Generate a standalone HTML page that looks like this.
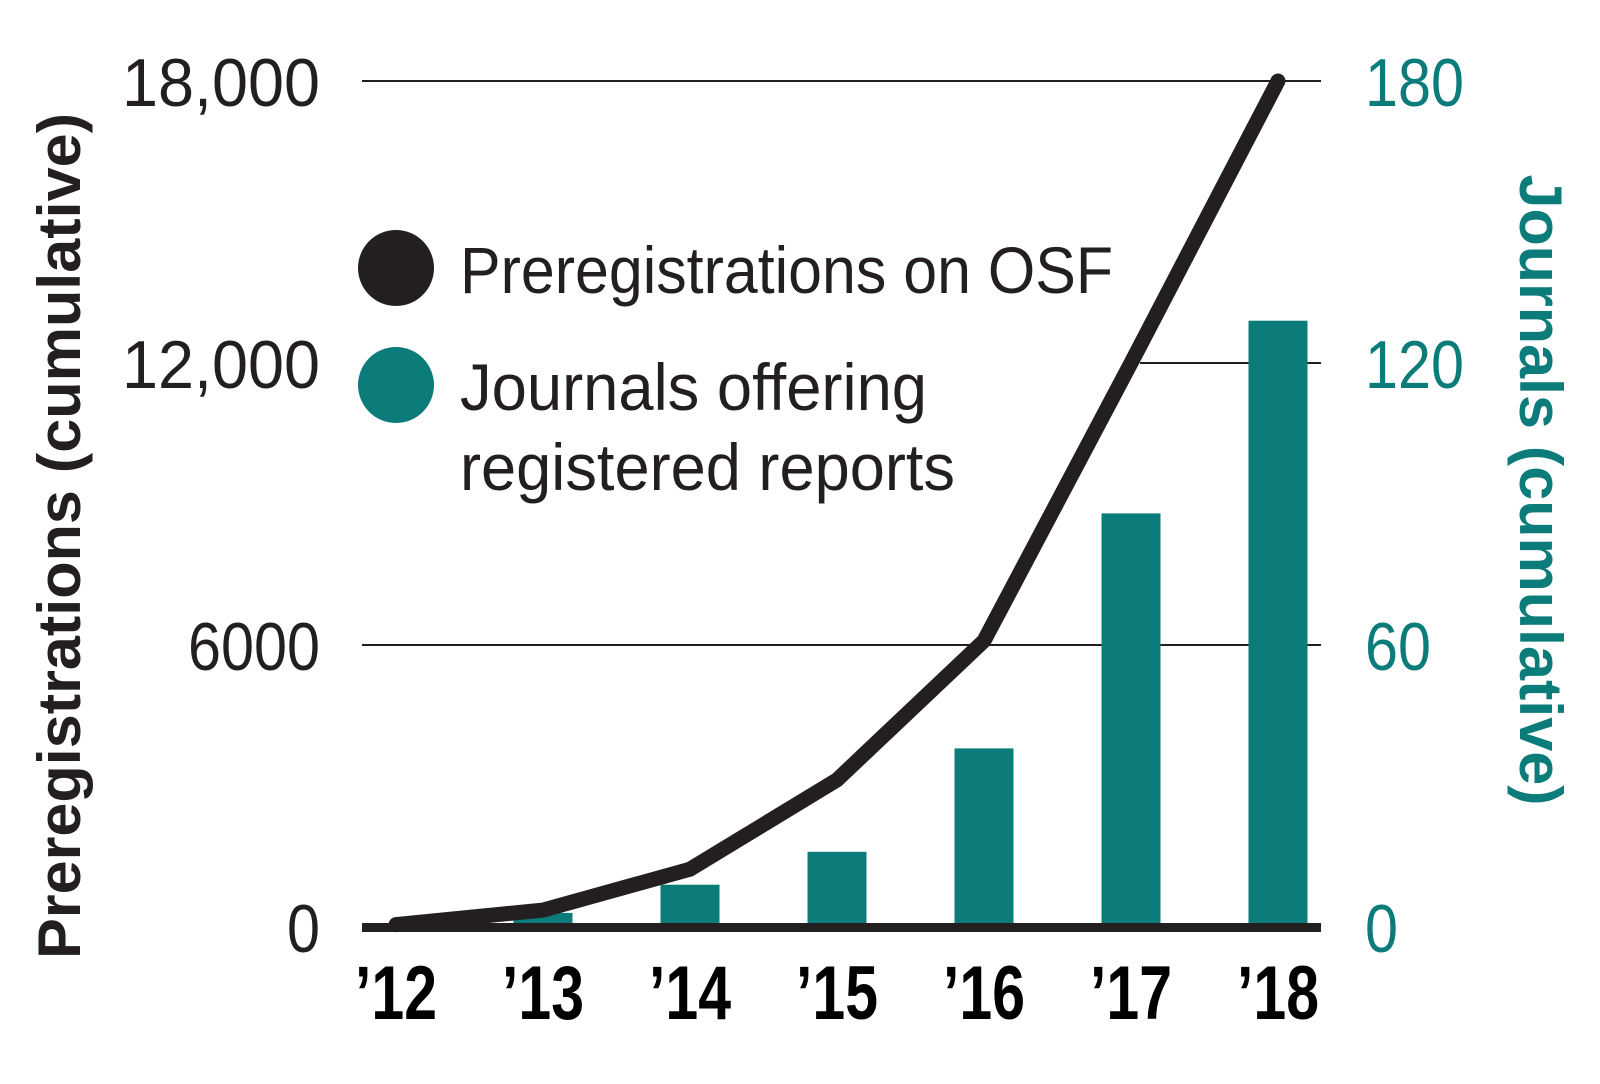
<!DOCTYPE html>
<html><head><meta charset="utf-8"><style>
html,body{margin:0;padding:0;background:#fff;}
svg{display:block;}
text{font-family:"Liberation Sans Narrow","Liberation Sans",sans-serif;}
</style></head><body>
<svg id="chart" width="1600" height="1084" viewBox="0 0 1600 1084" xmlns="http://www.w3.org/2000/svg">
<g id="grid"></g>
<g id="bars"></g>
<g id="line"></g>
<g id="axes"></g>
<g>
  <circle cx="396" cy="268" r="38" fill="#231f20"/>
  <text x="460" y="293" font-size="66" fill="#231f20" textLength="653" lengthAdjust="spacingAndGlyphs">Preregistrations on OSF</text>
  <circle cx="396" cy="385" r="38" fill="#0c7c7a"/>
  <text x="460" y="410" font-size="66" fill="#231f20" textLength="467" lengthAdjust="spacingAndGlyphs">Journals offering</text>
  <text x="460" y="490" font-size="66" fill="#231f20" textLength="495" lengthAdjust="spacingAndGlyphs">registered reports</text>
</g>
<text transform="translate(80,536) rotate(-90)" text-anchor="middle" font-size="60" font-weight="bold" fill="#231f20" textLength="846" lengthAdjust="spacingAndGlyphs">Preregistrations (cumulative)</text>
<text transform="translate(1520,490) rotate(90)" text-anchor="middle" font-size="60" font-weight="bold" fill="#0c7c7a" textLength="631" lengthAdjust="spacingAndGlyphs">Journals (cumulative)</text>
</svg>
<script>
const years = ["’12","’13","’14","’15","’16","’17","’18"];
const preregs = [50, 360, 1230, 3130, 6090, 12000, 18000];
const journals = [0, 3, 9, 16, 38, 88, 129];
const leftTicks = [0, 6000, 12000, 18000];
const leftTickLabels = ["0","6000","12,000","18,000"];
const rightTicks = [0, 60, 120, 180];
const rightTickLabels = ["0","60","120","180"];

const NS = "http://www.w3.org/2000/svg";
const X0 = 396, DX = 147, BASE = 927, TOPY = 81;
const xs = i => X0 + i * DX;
const yL = v => BASE - (v / 18000) * (BASE - TOPY);
const yR = v => BASE - (v / 180) * (BASE - TOPY);
function mk(tag, attrs, parent) {
  const e = document.createElementNS(NS, tag);
  for (const k in attrs) e.setAttribute(k, attrs[k]);
  parent.appendChild(e); return e;
}
const grid = document.getElementById('grid');
leftTicks.forEach((t) => {
  if (t === 0) return;
  const x1 = t === 12000 ? 1140 : 362;
  const l = mk('line', {x1: x1, x2: 1321, y1: yL(t), y2: yL(t), stroke: '#231f20', 'stroke-width': 2}, grid);
  
  
});
const bars = document.getElementById('bars');
journals.forEach((v, i) => {
  if (v <= 0) return;
  const r = mk('rect', {x: xs(i) - 29.5, y: yR(v), width: 59, height: BASE - yR(v), fill: '#0c7c7a'}, bars);
  
  
});
const axes = document.getElementById('axes');
const ax = mk('rect', {x: 362, y: 923, width: 959, height: 9, fill: '#231f20'}, axes);


const lg = document.getElementById('line');
const pts = preregs.map((v, i) => xs(i) + ',' + yL(v)).join(' ');
const pl = mk('polyline', {points: pts, fill: 'none', stroke: '#231f20', 'stroke-width': 15, 'stroke-linejoin': 'miter', 'stroke-linecap': 'round'}, lg);


years.forEach((y, i) => {
  const t = mk('text', {x: xs(i), y: 1019, 'text-anchor': 'middle', 'font-size': 76, 'font-weight': 'bold', fill: '#000', textLength: 82, lengthAdjust: 'spacingAndGlyphs'}, axes);
  t.textContent = y;
  
  
});
leftTicks.forEach((v, i) => {
  const lab = leftTickLabels[i];
  const t = mk('text', {x: 320, y: yL(v) + 25, 'text-anchor': 'end', 'font-size': 68, fill: '#231f20', textLength: lab.length * 33, lengthAdjust: 'spacingAndGlyphs'}, axes);
  t.textContent = lab;
  
  
});
rightTicks.forEach((v, i) => {
  const lab = rightTickLabels[i];
  const t = mk('text', {x: 1365, y: yR(v) + 25, 'text-anchor': 'start', 'font-size': 68, fill: '#0c7c7a', textLength: lab.length * 33, lengthAdjust: 'spacingAndGlyphs'}, axes);
  t.textContent = lab;
  
  
});
</script>
</body></html>
